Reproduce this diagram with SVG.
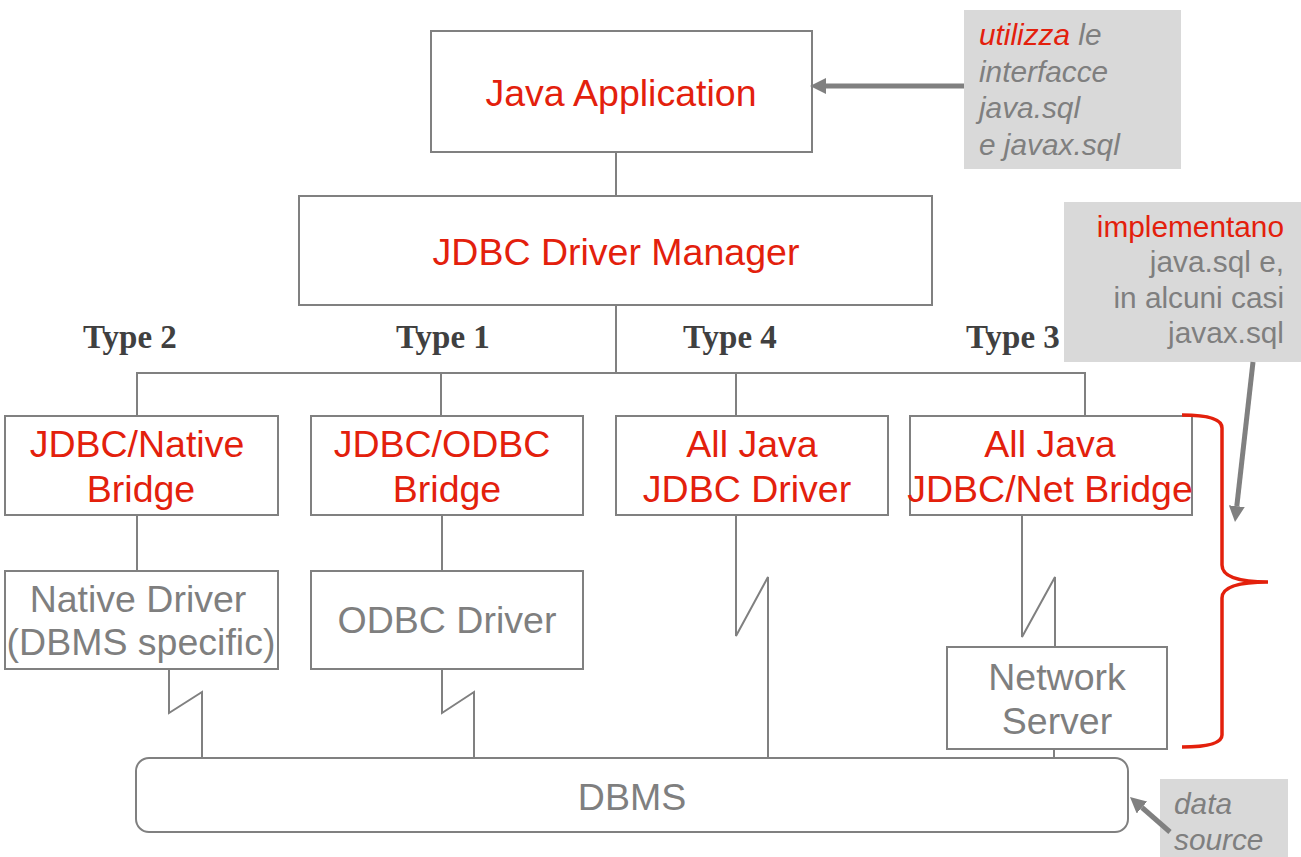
<svg xmlns="http://www.w3.org/2000/svg" width="1301" height="857" viewBox="0 0 1301 857">
<style>
.box{fill:#fff;stroke:#808080;stroke-width:2}
.conn{fill:none;stroke:#808080;stroke-width:2}
.red{fill:#e3200c}
.gray{fill:#7f7f7f}
.t{font-family:"Liberation Sans",Arial,sans-serif;font-size:37.5px;text-anchor:middle}
.type{font-family:"Liberation Serif","Times New Roman",serif;font-weight:bold;font-size:33px;fill:#404040}
.note{fill:#d9d9d9}
.nt{font-family:"Liberation Sans",Arial,sans-serif;font-size:29.8px}
.arrow{fill:none;stroke:#808080;stroke-width:5}
</style>
<defs>
<marker id="ah" viewBox="0 0 16 16" refX="0" refY="8" markerWidth="16" markerHeight="16" markerUnits="userSpaceOnUse" orient="auto">
<path d="M0,0 L16,8 L0,16 z" fill="#808080"/>
</marker>
</defs>
<rect width="1301" height="857" fill="#fff"/>

<g id="connectors">
<path class="conn" d="M616,152 V196"/>
<path class="conn" d="M616,305 V373"/>
<path class="conn" d="M137,416 V373 H1085 V416"/>
<path class="conn" d="M441,373 V416"/>
<path class="conn" d="M736,373 V416"/>
<path class="conn" d="M137,516 V571"/>
<path class="conn" d="M442,516 V571"/>
<path class="conn" d="M169,669 V713 L202,692 V758"/>
<path class="conn" d="M442,669 V713 L474,692 V758"/>
<path class="conn" d="M736,516 V636 L768,577 V758"/>
<path class="conn" d="M1022,516 V637 L1055,577 V647"/>
<path class="conn" d="M1054,749 V758"/>
</g>

<g id="java-app">
<rect class="box" x="431" y="31" width="381" height="121"/>
<text class="t red" x="621" y="106">Java Application</text>
</g>

<g id="driver-manager">
<rect class="box" x="299" y="196" width="633" height="109"/>
<text class="t red" x="616" y="265">JDBC Driver Manager</text>
</g>

<g id="types">
<text class="type" x="83" y="348">Type 2</text>
<text class="type" x="396" y="348">Type 1</text>
<text class="type" x="683" y="348">Type 4</text>
<text class="type" x="966" y="348">Type 3</text>
</g>

<g id="native-bridge">
<rect class="box" x="5" y="416" width="273" height="99"/>
<text class="t red" x="137" y="457">JDBC/Native</text>
<text class="t red" x="141" y="502">Bridge</text>
</g>

<g id="odbc-bridge">
<rect class="box" x="311" y="416" width="272" height="99"/>
<text class="t red" x="442" y="457">JDBC/ODBC</text>
<text class="t red" x="447" y="502">Bridge</text>
</g>

<g id="all-java-driver">
<rect class="box" x="616" y="416" width="272" height="99"/>
<text class="t red" x="752" y="457">All Java</text>
<text class="t red" x="747" y="502">JDBC Driver</text>
</g>

<g id="net-bridge">
<rect class="box" x="910" y="416" width="282" height="99"/>
<text class="t red" x="1050" y="457">All Java</text>
<text class="t red" x="1050" y="502">JDBC/Net Bridge</text>
</g>

<g id="native-driver">
<rect class="box" x="5" y="571" width="273" height="98"/>
<text class="t gray" x="138" y="612">Native Driver</text>
<text class="t gray" x="141" y="655">(DBMS specific)</text>
</g>

<g id="odbc-driver">
<rect class="box" x="311" y="571" width="272" height="98"/>
<text class="t gray" x="447" y="633">ODBC Driver</text>
</g>

<g id="network-server">
<rect class="box" x="947" y="647" width="220" height="102"/>
<text class="t gray" x="1057" y="690">Network</text>
<text class="t gray" x="1057" y="734">Server</text>
</g>

<g id="dbms">
<rect class="box" x="136" y="758" width="992" height="74" rx="13" ry="13"/>
<text class="t gray" x="632" y="810">DBMS</text>
</g>

<g id="brace">
<path d="M1182,415 Q1222,415 1222,428 V565 Q1222,582 1268,582 Q1222,582 1222,598 V735 Q1222,747 1182,747" fill="none" stroke="#e3200c" stroke-width="3.5"/>
</g>

<g id="note-utilizza">
<rect class="note" x="964" y="10" width="217" height="159"/>
<text class="nt gray" font-style="italic" x="979" y="45"><tspan class="red">utilizza</tspan> le</text>
<text class="nt gray" font-style="italic" x="979" y="82">interfacce</text>
<text class="nt gray" font-style="italic" x="979" y="118">java.sql</text>
<text class="nt gray" font-style="italic" x="979" y="155">e javax.sql</text>
</g>

<g id="note-implementano">
<rect class="note" x="1064" y="202" width="237" height="160"/>
<text class="nt red" text-anchor="end" x="1284" y="237">implementano</text>
<text class="nt gray" text-anchor="end" x="1284" y="272">java.sql e,</text>
<text class="nt gray" text-anchor="end" x="1284" y="308">in alcuni casi</text>
<text class="nt gray" text-anchor="end" x="1284" y="343">javax.sql</text>
</g>

<g id="note-datasource">
<rect class="note" x="1160" y="779" width="128" height="78"/>
<text class="nt gray" font-style="italic" x="1174" y="814">data</text>
<text class="nt gray" font-style="italic" x="1174" y="850">source</text>
</g>

<g id="arrows">
<path class="arrow" d="M964,86 L826,86" marker-end="url(#ah)"/>
<path class="arrow" d="M1253,362 L1236.8,506.1" marker-end="url(#ah)"/>
<path class="arrow" d="M1170,832 L1142,807.5" marker-end="url(#ah)"/>
</g>
</svg>
